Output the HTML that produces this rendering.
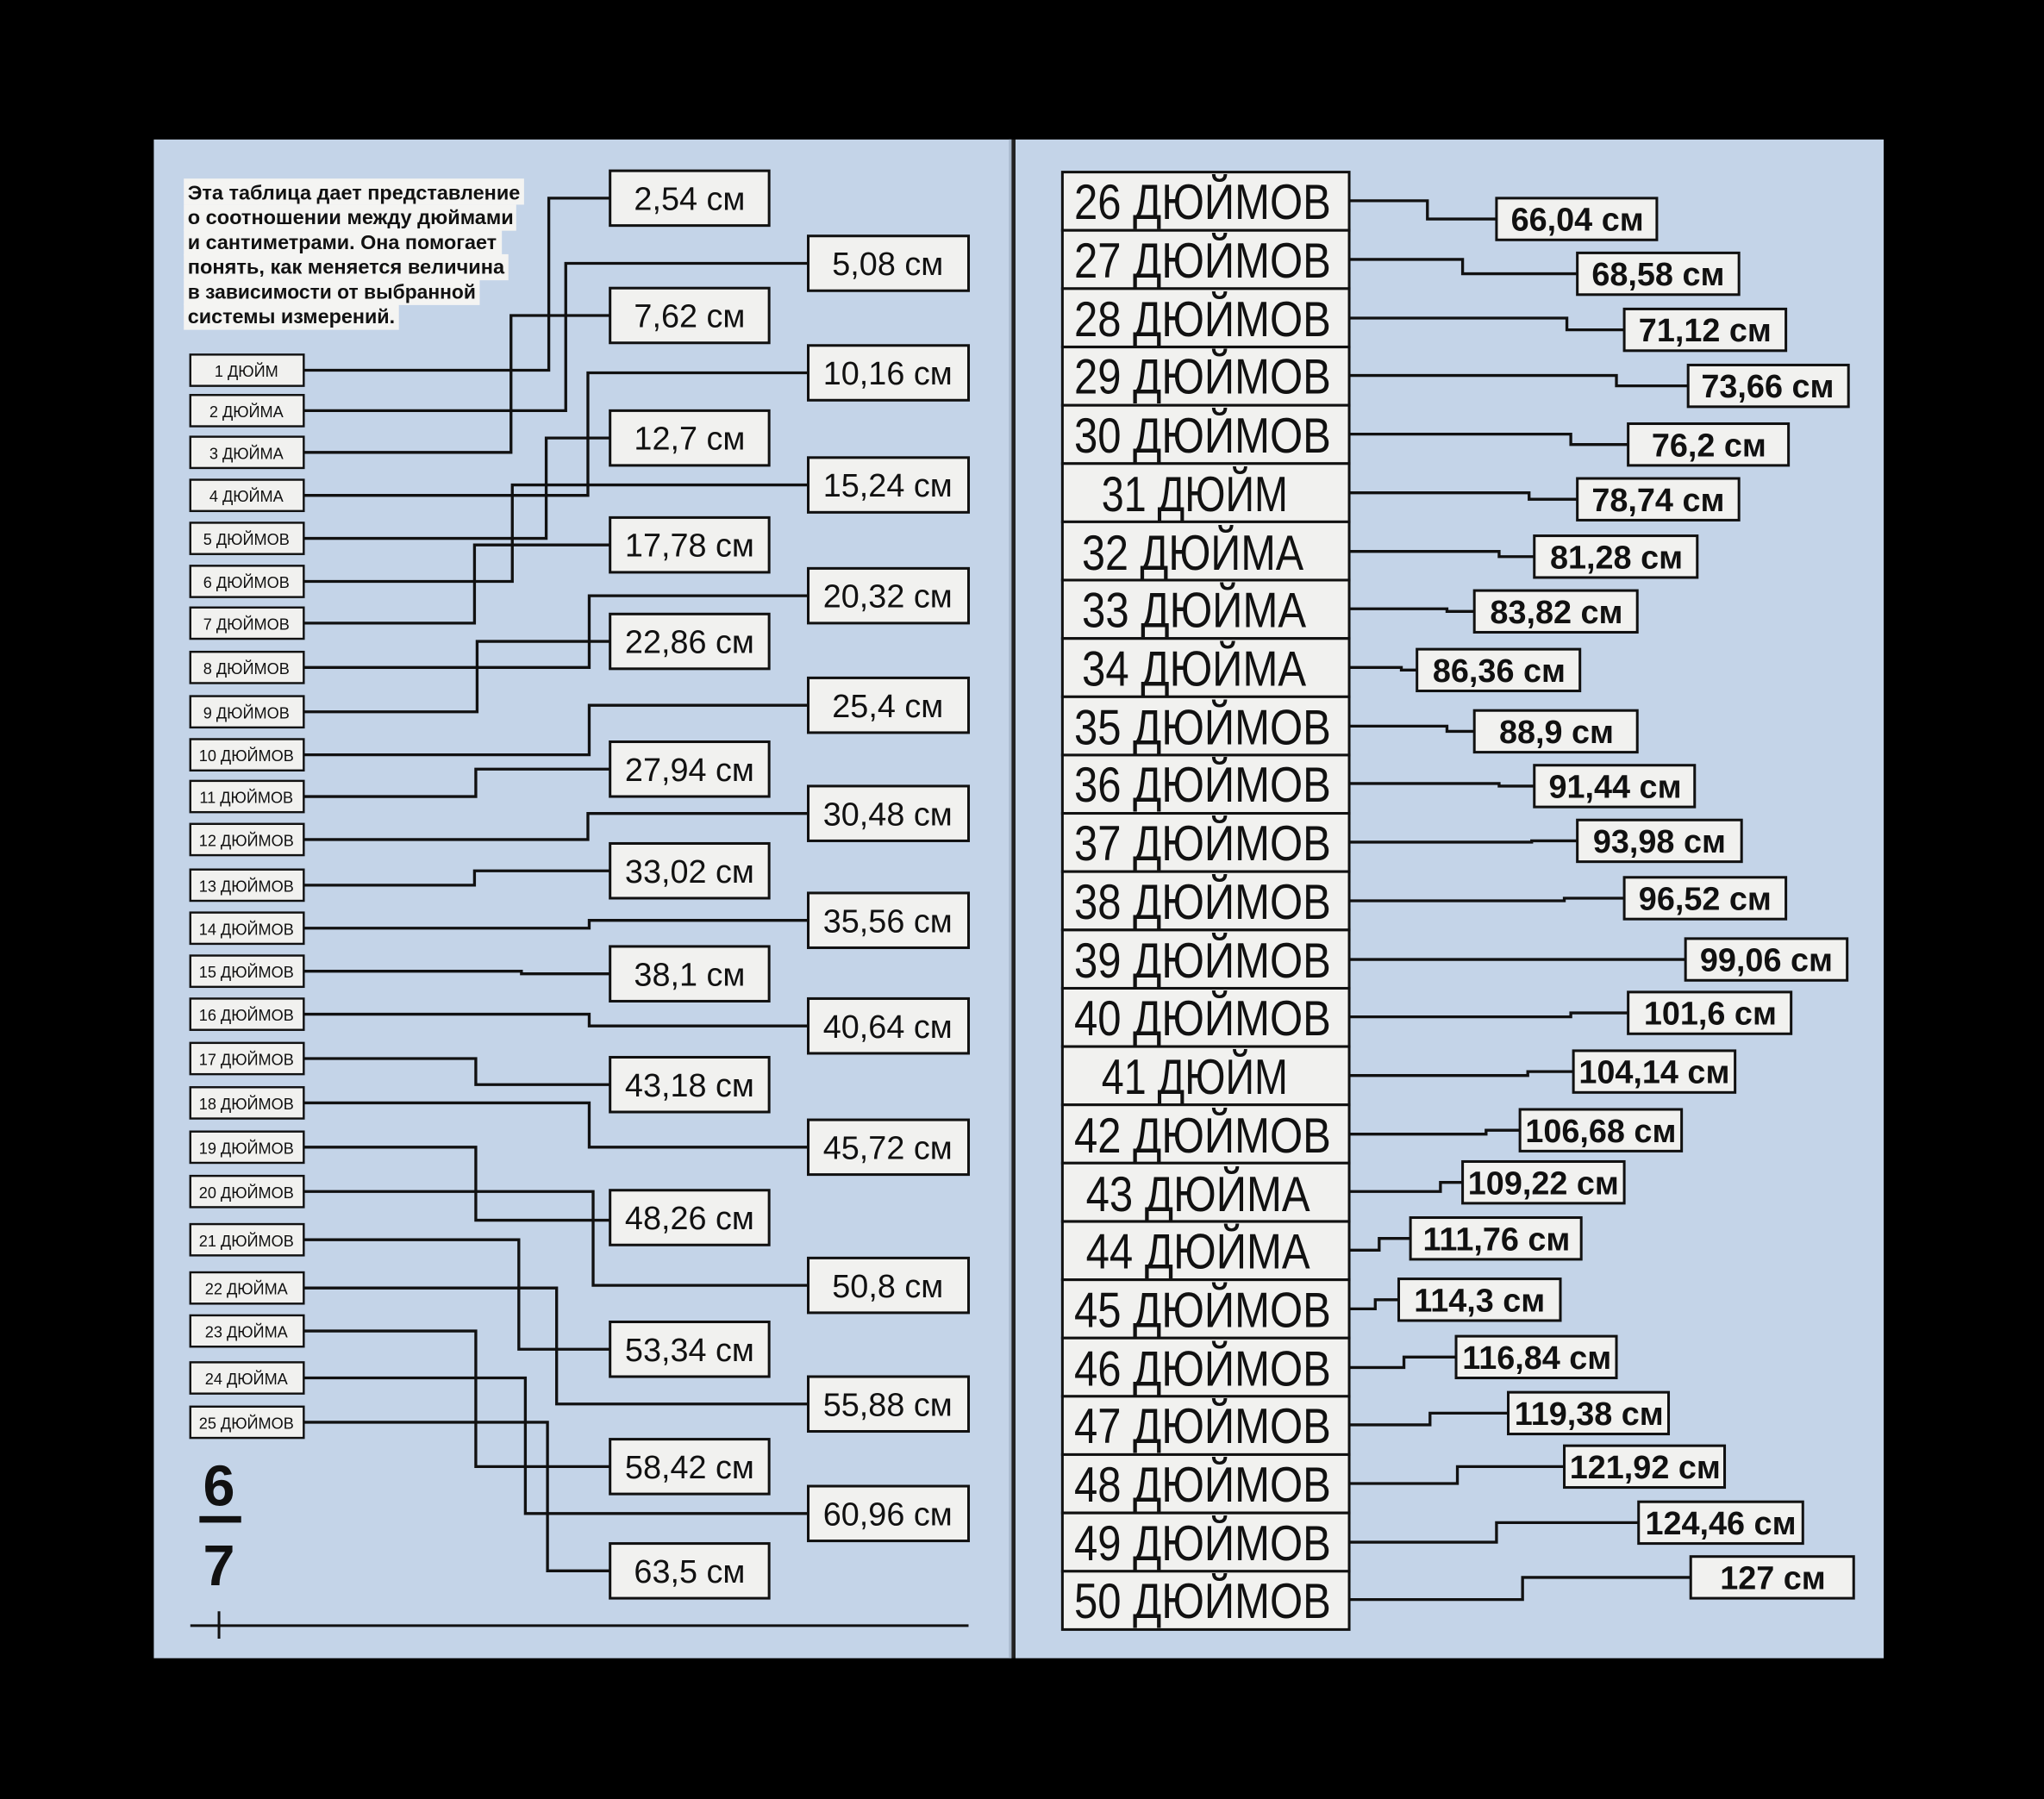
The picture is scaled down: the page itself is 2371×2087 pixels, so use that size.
<!DOCTYPE html>
<html><head><meta charset="utf-8"><style>
html,body{margin:0;padding:0;background:#000;}
svg{display:block;}
text{font-family:"Liberation Sans Narrow","Liberation Sans",sans-serif;fill:#111;}
.b{font-weight:bold;}
</style></head><body>
<svg width="2371" height="2087" viewBox="0 0 1568 1380" preserveAspectRatio="none" xmlns="http://www.w3.org/2000/svg">
<rect width="1568" height="1380" fill="#000"/>
<rect x="118" y="107" width="658" height="1165" fill="#c4d4e8"/>
<rect x="779" y="107" width="666" height="1165" fill="#c4d4e8"/>
<rect x="774" y="107" width="2" height="1165" fill="#a8b8cc"/>
<rect x="776" y="107" width="3" height="1165" fill="#222"/>

<!-- intro text -->
<g fill="#f4f4f2">
<rect x="141" y="137" width="261" height="20"/><rect x="141" y="157" width="255" height="20"/>
<rect x="141" y="176" width="244" height="20"/><rect x="141" y="195" width="249" height="20"/>
<rect x="141" y="214" width="227" height="20"/><rect x="141" y="233" width="165" height="20"/>
</g>
<g class="b" font-size="15">
<text class="b" x="144" y="153" textLength="255" lengthAdjust="spacingAndGlyphs">Эта таблица дает представление</text>
<text class="b" x="144" y="172" textLength="250" lengthAdjust="spacingAndGlyphs">о соотношении между дюймами</text>
<text class="b" x="144" y="191" textLength="237" lengthAdjust="spacingAndGlyphs">и сантиметрами. Она помогает</text>
<text class="b" x="144" y="210" textLength="243" lengthAdjust="spacingAndGlyphs">понять, как меняется величина</text>
<text class="b" x="144" y="229" textLength="221" lengthAdjust="spacingAndGlyphs">в зависимости от выбранной</text>
<text class="b" x="144" y="248" textLength="159" lengthAdjust="spacingAndGlyphs">системы измерений.</text>
</g>

<!-- left connectors -->
<g fill="none" stroke="#111" stroke-width="2.2">
<path d="M233 284H421V152H468"/>
<path d="M233 315H434V202H620"/>
<path d="M233 347H392V242H468"/>
<path d="M233 380H451V286H620"/>
<path d="M233 413H419V336H468"/>
<path d="M233 446H393V372H620"/>
<path d="M233 478H364V418H468"/>
<path d="M233 512H452V457H620"/>
<path d="M233 546H366V492H468"/>
<path d="M233 579H452V541H620"/>
<path d="M233 611H365V590H468"/>
<path d="M233 644H451V624H620"/>
<path d="M233 679H364V668H468"/>
<path d="M233 712H452V706H620"/>
<path d="M233 745H400V747H468"/>
<path d="M233 778H452V787H620"/>
<path d="M233 812H365V832H468"/>
<path d="M233 846H452V880H620"/>
<path d="M233 880H365V936H468"/>
<path d="M233 914H455V986H620"/>
<path d="M233 951H398V1035H468"/>
<path d="M233 988H427V1077H620"/>
<path d="M233 1021H365V1125H468"/>
<path d="M233 1057H403V1161H620"/>
<path d="M233 1091H420V1205H468"/>
</g>

<!-- left inch boxes -->
<g fill="#f1f1ef" stroke="#111" stroke-width="1.6">
<rect x="146" y="272" width="87" height="24"/><rect x="146" y="303" width="87" height="24"/>
<rect x="146" y="335" width="87" height="24"/><rect x="146" y="368" width="87" height="24"/>
<rect x="146" y="401" width="87" height="24"/><rect x="146" y="434" width="87" height="24"/>
<rect x="146" y="466" width="87" height="24"/><rect x="146" y="500" width="87" height="24"/>
<rect x="146" y="534" width="87" height="24"/><rect x="146" y="567" width="87" height="24"/>
<rect x="146" y="599" width="87" height="24"/><rect x="146" y="632" width="87" height="24"/>
<rect x="146" y="667" width="87" height="24"/><rect x="146" y="700" width="87" height="24"/>
<rect x="146" y="733" width="87" height="24"/><rect x="146" y="766" width="87" height="24"/>
<rect x="146" y="800" width="87" height="24"/><rect x="146" y="834" width="87" height="24"/>
<rect x="146" y="868" width="87" height="24"/><rect x="146" y="902" width="87" height="24"/>
<rect x="146" y="939" width="87" height="24"/><rect x="146" y="976" width="87" height="24"/>
<rect x="146" y="1009" width="87" height="24"/><rect x="146" y="1045" width="87" height="24"/>
<rect x="146" y="1079" width="87" height="24"/>
</g>
<g font-size="12" text-anchor="middle">
<text x="189" y="289">1 ДЮЙМ</text><text x="189" y="320">2 ДЮЙМА</text>
<text x="189" y="352">3 ДЮЙМА</text><text x="189" y="385">4 ДЮЙМА</text>
<text x="189" y="418">5 ДЮЙМОВ</text><text x="189" y="451">6 ДЮЙМОВ</text>
<text x="189" y="483">7 ДЮЙМОВ</text><text x="189" y="517">8 ДЮЙМОВ</text>
<text x="189" y="551">9 ДЮЙМОВ</text><text x="189" y="584">10 ДЮЙМОВ</text>
<text x="189" y="616">11 ДЮЙМОВ</text><text x="189" y="649">12 ДЮЙМОВ</text>
<text x="189" y="684">13 ДЮЙМОВ</text><text x="189" y="717">14 ДЮЙМОВ</text>
<text x="189" y="750">15 ДЮЙМОВ</text><text x="189" y="783">16 ДЮЙМОВ</text>
<text x="189" y="817">17 ДЮЙМОВ</text><text x="189" y="851">18 ДЮЙМОВ</text>
<text x="189" y="885">19 ДЮЙМОВ</text><text x="189" y="919">20 ДЮЙМОВ</text>
<text x="189" y="956">21 ДЮЙМОВ</text><text x="189" y="993">22 ДЮЙМА</text>
<text x="189" y="1026">23 ДЮЙМА</text><text x="189" y="1062">24 ДЮЙМА</text>
<text x="189" y="1096">25 ДЮЙМОВ</text>
</g>

<!-- left cm boxes -->
<g fill="#f1f1ef" stroke="#111" stroke-width="2">
<rect x="468" y="131" width="122" height="42"/><rect x="620" y="181" width="123" height="42"/>
<rect x="468" y="221" width="122" height="42"/><rect x="620" y="265" width="123" height="42"/>
<rect x="468" y="315" width="122" height="42"/><rect x="620" y="351" width="123" height="42"/>
<rect x="468" y="397" width="122" height="42"/><rect x="620" y="436" width="123" height="42"/>
<rect x="468" y="471" width="122" height="42"/><rect x="620" y="520" width="123" height="42"/>
<rect x="468" y="569" width="122" height="42"/><rect x="620" y="603" width="123" height="42"/>
<rect x="468" y="647" width="122" height="42"/><rect x="620" y="685" width="123" height="42"/>
<rect x="468" y="726" width="122" height="42"/><rect x="620" y="766" width="123" height="42"/>
<rect x="468" y="811" width="122" height="42"/><rect x="620" y="859" width="123" height="42"/>
<rect x="468" y="913" width="122" height="42"/><rect x="620" y="965" width="123" height="42"/>
<rect x="468" y="1014" width="122" height="42"/><rect x="620" y="1056" width="123" height="42"/>
<rect x="468" y="1104" width="122" height="42"/><rect x="620" y="1140" width="123" height="42"/>
<rect x="468" y="1184" width="122" height="42"/>
</g>
<g font-size="25" text-anchor="middle">
<text x="529" y="161">2,54 см</text><text x="681" y="211">5,08 см</text>
<text x="529" y="251">7,62 см</text><text x="681" y="295">10,16 см</text>
<text x="529" y="345">12,7 см</text><text x="681" y="381">15,24 см</text>
<text x="529" y="427">17,78 см</text><text x="681" y="466">20,32 см</text>
<text x="529" y="501">22,86 см</text><text x="681" y="550">25,4 см</text>
<text x="529" y="599">27,94 см</text><text x="681" y="633">30,48 см</text>
<text x="529" y="677">33,02 см</text><text x="681" y="715">35,56 см</text>
<text x="529" y="756">38,1 см</text><text x="681" y="796">40,64 см</text>
<text x="529" y="841">43,18 см</text><text x="681" y="889">45,72 см</text>
<text x="529" y="943">48,26 см</text><text x="681" y="995">50,8 см</text>
<text x="529" y="1044">53,34 см</text><text x="681" y="1086">55,88 см</text>
<text x="529" y="1134">58,42 см</text><text x="681" y="1170">60,96 см</text>
<text x="529" y="1214">63,5 см</text>
</g>

<!-- page number -->
<text class="b" x="168" y="1155" font-size="44" text-anchor="middle">6</text>
<rect x="153" y="1163" width="32" height="5" fill="#111"/>
<text class="b" x="168" y="1216" font-size="44" text-anchor="middle">7</text>
<path d="M146 1247H743M168 1236V1257" stroke="#111" stroke-width="2"/>

<!-- right connectors -->
<g fill="none" stroke="#111" stroke-width="2.2">
<path d="M1035 154H1095V168H1148"/>
<path d="M1035 199H1122V210H1210"/>
<path d="M1035 244H1202V253H1246"/>
<path d="M1035 288H1240V296H1295"/>
<path d="M1035 333H1205V341H1249"/>
<path d="M1035 378H1173V383H1210"/>
<path d="M1035 423H1150V427H1177"/>
<path d="M1035 467H1110V469H1131"/>
<path d="M1035 512H1075V514H1087"/>
<path d="M1035 557H1110V561H1131"/>
<path d="M1035 601H1150V603H1177"/>
<path d="M1035 646H1175V645H1210"/>
<path d="M1035 691H1200V689H1246"/>
<path d="M1035 736H1240V736H1293"/>
<path d="M1035 780H1205V777H1249"/>
<path d="M1035 825H1172V822H1207"/>
<path d="M1035 870H1140V867H1166"/>
<path d="M1035 914H1105V907H1122"/>
<path d="M1035 959H1058V950H1082"/>
<path d="M1035 1004H1055V997H1073"/>
<path d="M1035 1049H1077V1041H1117"/>
<path d="M1035 1093H1097V1084H1157"/>
<path d="M1035 1138H1118V1125H1200"/>
<path d="M1035 1183H1148V1168H1257"/>
<path d="M1035 1227H1168V1210H1297"/>
</g>

<!-- right inch boxes -->
<g fill="#f1f1ef" stroke="#111" stroke-width="2">
<rect x="815" y="132" width="220" height="44.7"/><rect x="815" y="176.7" width="220" height="44.7"/>
<rect x="815" y="221.4" width="220" height="44.7"/><rect x="815" y="266.2" width="220" height="44.7"/>
<rect x="815" y="310.9" width="220" height="44.7"/><rect x="815" y="355.6" width="220" height="44.7"/>
<rect x="815" y="400.3" width="220" height="44.7"/><rect x="815" y="445" width="220" height="44.7"/>
<rect x="815" y="489.8" width="220" height="44.7"/><rect x="815" y="534.5" width="220" height="44.7"/>
<rect x="815" y="579.2" width="220" height="44.7"/><rect x="815" y="623.9" width="220" height="44.7"/>
<rect x="815" y="668.6" width="220" height="44.7"/><rect x="815" y="713.4" width="220" height="44.7"/>
<rect x="815" y="758.1" width="220" height="44.7"/><rect x="815" y="802.8" width="220" height="44.7"/>
<rect x="815" y="847.5" width="220" height="44.7"/><rect x="815" y="892.2" width="220" height="44.7"/>
<rect x="815" y="937" width="220" height="44.7"/><rect x="815" y="981.7" width="220" height="44.7"/>
<rect x="815" y="1026.4" width="220" height="44.7"/><rect x="815" y="1071.1" width="220" height="44.7"/>
<rect x="815" y="1115.8" width="220" height="44.7"/><rect x="815" y="1160.6" width="220" height="44.7"/>
<rect x="815" y="1205.3" width="220" height="44.7"/>
</g>
<g font-size="38">
<text x="824" y="168" textLength="197" lengthAdjust="spacingAndGlyphs">26 ДЮЙМОВ</text>
<text x="824" y="213" textLength="197" lengthAdjust="spacingAndGlyphs">27 ДЮЙМОВ</text>
<text x="824" y="258" textLength="197" lengthAdjust="spacingAndGlyphs">28 ДЮЙМОВ</text>
<text x="824" y="302" textLength="197" lengthAdjust="spacingAndGlyphs">29 ДЮЙМОВ</text>
<text x="824" y="347" textLength="197" lengthAdjust="spacingAndGlyphs">30 ДЮЙМОВ</text>
<text x="845" y="392" textLength="143" lengthAdjust="spacingAndGlyphs">31 ДЮЙМ</text>
<text x="830" y="437" textLength="170" lengthAdjust="spacingAndGlyphs">32 ДЮЙМА</text>
<text x="830" y="481" textLength="172" lengthAdjust="spacingAndGlyphs">33 ДЮЙМА</text>
<text x="830" y="526" textLength="172" lengthAdjust="spacingAndGlyphs">34 ДЮЙМА</text>
<text x="824" y="571" textLength="197" lengthAdjust="spacingAndGlyphs">35 ДЮЙМОВ</text>
<text x="824" y="615" textLength="197" lengthAdjust="spacingAndGlyphs">36 ДЮЙМОВ</text>
<text x="824" y="660" textLength="197" lengthAdjust="spacingAndGlyphs">37 ДЮЙМОВ</text>
<text x="824" y="705" textLength="197" lengthAdjust="spacingAndGlyphs">38 ДЮЙМОВ</text>
<text x="824" y="750" textLength="197" lengthAdjust="spacingAndGlyphs">39 ДЮЙМОВ</text>
<text x="824" y="794" textLength="197" lengthAdjust="spacingAndGlyphs">40 ДЮЙМОВ</text>
<text x="845" y="839" textLength="143" lengthAdjust="spacingAndGlyphs">41 ДЮЙМ</text>
<text x="824" y="884" textLength="197" lengthAdjust="spacingAndGlyphs">42 ДЮЙМОВ</text>
<text x="833" y="929" textLength="172" lengthAdjust="spacingAndGlyphs">43 ДЮЙМА</text>
<text x="833" y="973" textLength="172" lengthAdjust="spacingAndGlyphs">44 ДЮЙМА</text>
<text x="824" y="1018" textLength="197" lengthAdjust="spacingAndGlyphs">45 ДЮЙМОВ</text>
<text x="824" y="1063" textLength="197" lengthAdjust="spacingAndGlyphs">46 ДЮЙМОВ</text>
<text x="824" y="1107" textLength="197" lengthAdjust="spacingAndGlyphs">47 ДЮЙМОВ</text>
<text x="824" y="1152" textLength="197" lengthAdjust="spacingAndGlyphs">48 ДЮЙМОВ</text>
<text x="824" y="1197" textLength="197" lengthAdjust="spacingAndGlyphs">49 ДЮЙМОВ</text>
<text x="824" y="1241" textLength="197" lengthAdjust="spacingAndGlyphs">50 ДЮЙМОВ</text>
</g>

<!-- right cm boxes -->
<g fill="#f1f1ef" stroke="#111" stroke-width="2">
<rect x="1148" y="152" width="123" height="32"/><rect x="1210" y="194" width="124" height="32"/>
<rect x="1246" y="237" width="124" height="32"/><rect x="1295" y="280" width="123" height="32"/>
<rect x="1249" y="325" width="123" height="32"/><rect x="1210" y="367" width="124" height="32"/>
<rect x="1177" y="411" width="125" height="32"/><rect x="1131" y="453" width="125" height="32"/>
<rect x="1087" y="498" width="125" height="32"/><rect x="1131" y="545" width="125" height="32"/>
<rect x="1177" y="587" width="123" height="32"/><rect x="1210" y="629" width="126" height="32"/>
<rect x="1246" y="673" width="124" height="32"/><rect x="1293" y="720" width="124" height="32"/>
<rect x="1249" y="761" width="125" height="32"/><rect x="1207" y="806" width="124" height="32"/>
<rect x="1166" y="851" width="124" height="32"/><rect x="1122" y="891" width="124" height="32"/>
<rect x="1082" y="934" width="131" height="32"/><rect x="1073" y="981" width="124" height="32"/>
<rect x="1117" y="1025" width="123" height="32"/><rect x="1157" y="1068" width="123" height="32"/>
<rect x="1200" y="1109" width="123" height="32"/><rect x="1257" y="1152" width="126" height="32"/>
<rect x="1297" y="1194" width="125" height="32"/>
</g>
<g class="b" font-size="25" text-anchor="middle">
<text class="b" x="1210" y="177">66,04 см</text><text class="b" x="1272" y="219">68,58 см</text>
<text class="b" x="1308" y="262">71,12 см</text><text class="b" x="1356" y="305">73,66 см</text>
<text class="b" x="1311" y="350">76,2 см</text><text class="b" x="1272" y="392">78,74 см</text>
<text class="b" x="1240" y="436">81,28 см</text><text class="b" x="1194" y="478">83,82 см</text>
<text class="b" x="1150" y="523">86,36 см</text><text class="b" x="1194" y="570">88,9 см</text>
<text class="b" x="1239" y="612">91,44 см</text><text class="b" x="1273" y="654">93,98 см</text>
<text class="b" x="1308" y="698">96,52 см</text><text class="b" x="1355" y="745">99,06 см</text>
<text class="b" x="1312" y="786">101,6 см</text><text class="b" x="1269" y="831">104,14 см</text>
<text class="b" x="1228" y="876">106,68 см</text><text class="b" x="1184" y="916">109,22 см</text>
<text class="b" x="1148" y="959">111,76 см</text><text class="b" x="1135" y="1006">114,3 см</text>
<text class="b" x="1179" y="1050">116,84 см</text><text class="b" x="1219" y="1093">119,38 см</text>
<text class="b" x="1262" y="1134">121,92 см</text><text class="b" x="1320" y="1177">124,46 см</text>
<text class="b" x="1360" y="1219">127 см</text>
</g>
</svg>
</body></html>
